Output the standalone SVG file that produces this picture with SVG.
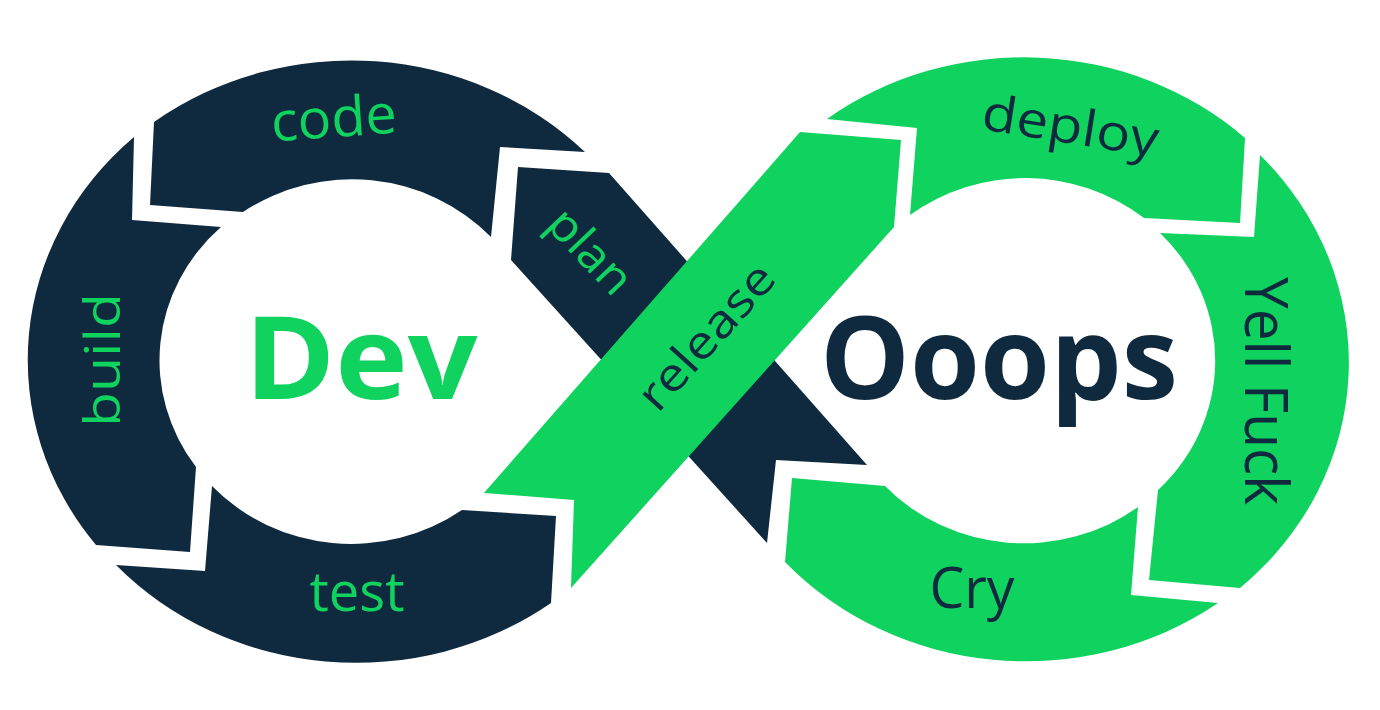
<svg xmlns="http://www.w3.org/2000/svg" width="1380" height="710" viewBox="0 0 1380 710">
  <style>
    .dark { fill: #0f2a3f; }
    .green { fill: #0fd25f; }
    .lbl { font-family: "Open Sans", "Liberation Sans", sans-serif; text-anchor: middle; }
    .lg { fill: #0fd25f; }
    .ld { fill: #0f2a3f; }
    .big { font-family: "Open Sans", "Liberation Sans", sans-serif; font-weight: 700; text-anchor: middle; }
  </style>
  <rect width="1380" height="710" fill="#ffffff"/>

  <g id="left-loop">
    <g id="code">
      <path class="dark" d="M154,122 A326,302 0 0 1 585,152 L500,147 L491,237 A190,181 0 0 0 243,212 L150,205 Z"/>
      <text class="lbl lg" x="335" y="137" font-size="55" textLength="126" lengthAdjust="spacingAndGlyphs" transform="rotate(-4 335 137)">code</text>
    </g>
    <g id="build">
      <path class="dark" d="M134,137 L132,220 L221,227 A190,181 0 0 0 196,467 L190,552 L96,545 A326,302 0 0 1 134,137 Z"/>
      <text class="lbl lg" x="0" y="0" font-size="50" textLength="134" lengthAdjust="spacingAndGlyphs" transform="translate(120 360) rotate(-90)">build</text>
    </g>
    <g id="test">
      <path class="dark" d="M116,565 L205,571 L212,486 A190,181 0 0 0 462,510 L556,516 L551,603 A326,302 0 0 1 116,565 Z"/>
      <text class="lbl lg" x="357" y="611" font-size="55" textLength="95" lengthAdjust="spacingAndGlyphs">test</text>
    </g>
  </g>

  <g id="plan">
    <path class="dark" d="M518,167 L609,173 L867,465 L776,460 L767,543 L511,260 Z"/>
    <text class="lbl lg" x="0" y="0" font-size="46" textLength="100" lengthAdjust="spacingAndGlyphs" transform="translate(579 262) rotate(46.5)">plan</text>
  </g>

  <g id="release">
    <path class="green" d="M800,132 L901,140 L894,227 L571,588 L574,500 L484,493 Z"/>
    <text class="lbl ld" x="0" y="0" font-size="46" textLength="180" lengthAdjust="spacingAndGlyphs" transform="translate(718 347) rotate(-48)">release</text>
  </g>

  <g id="right-loop">
    <g id="deploy">
      <path class="green" d="M827,119 A325,302 0 0 1 1245,138 L1240,223 L1144,218 A190,181 0 0 0 910,215 L917,128 Z"/>
      <text class="lbl ld" x="1068" y="143" font-size="50" textLength="178" lengthAdjust="spacingAndGlyphs" transform="rotate(9 1068 143)">deploy</text>
    </g>
    <g id="yell-fuck">
      <path class="green" d="M1260,155 L1254,237 L1160,233 A190,181 0 0 1 1158,490 L1149,580 L1240,588 A325,302 0 0 0 1260,155 Z"/>
      <text class="lbl ld" x="0" y="0" font-size="60" textLength="228" lengthAdjust="spacingAndGlyphs" transform="translate(1245 391) rotate(90)">Yell Fuck</text>
    </g>
    <g id="cry">
      <path class="green" d="M1218,603 L1131,595 L1138,507 A190,181 0 0 1 885,486 L792,478 L785,562 A325,302 0 0 0 1218,603 Z"/>
      <text class="lbl ld" x="972" y="608" font-size="57" textLength="85" lengthAdjust="spacingAndGlyphs">Cry</text>
    </g>
  </g>

  <g id="titles">
    <text id="dev" class="big lg" x="361" y="399" font-size="114" textLength="233" lengthAdjust="spacingAndGlyphs">Dev</text>
    <text id="ooops" class="big ld" x="999" y="399" font-size="115" textLength="358" lengthAdjust="spacingAndGlyphs">Ooops</text>
  </g>

  <g id="connectors"></g>
</svg>
